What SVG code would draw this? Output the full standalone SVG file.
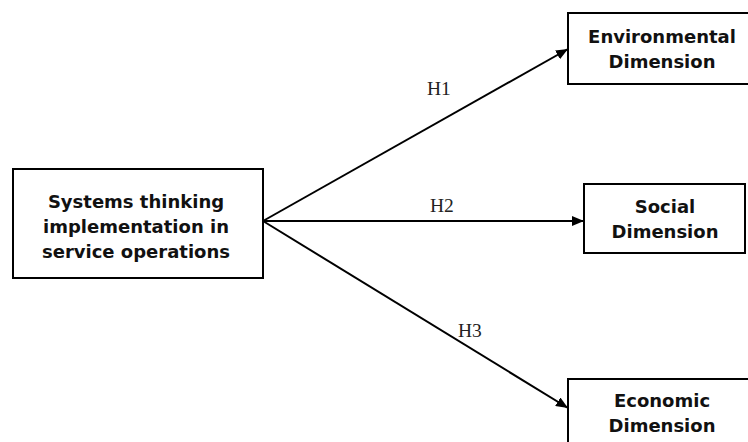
<svg xmlns="http://www.w3.org/2000/svg" width="748" height="442" viewBox="0 0 748 442">
<defs>
<marker id="arr" markerWidth="12" markerHeight="10" refX="12" refY="5" orient="auto" markerUnits="userSpaceOnUse">
<path d="M0,0 L12,5 L0,10 Z" fill="#000"/>
</marker>
<style>
.box{fill:#fff;stroke:#000;stroke-width:2}
.t{font-family:"DejaVu Sans",sans-serif;font-weight:bold;font-size:18px;fill:#111;text-anchor:middle}
.lbl{font-family:"Liberation Serif",serif;font-size:19.5px;fill:#222}
.c{stroke:#000;stroke-width:2;fill:none;marker-end:url(#arr)}
</style>
</defs>
<rect width="748" height="442" fill="#fff"/>
<g id="connectors">
<line class="c" x1="263" y1="221" x2="568" y2="49"/>
<line class="c" x1="263" y1="221" x2="584" y2="221"/>
<line class="c" x1="263" y1="221" x2="568" y2="408"/>
<text class="lbl" x="427" y="95">H1</text>
<text class="lbl" x="430" y="212">H2</text>
<text class="lbl" x="458" y="337">H3</text>
</g>
<g id="source">
<rect class="box" x="13" y="169" width="250" height="109"/>
<text class="t" x="136" y="208">Systems thinking</text>
<text class="t" x="136" y="233">implementation in</text>
<text class="t" x="136" y="258">service operations</text>
</g>
<g id="environmental">
<rect class="box" x="568" y="13" width="190" height="71"/>
<text class="t" x="662" y="43">Environmental</text>
<text class="t" x="662" y="68">Dimension</text>
</g>
<g id="social">
<rect class="box" x="584" y="184" width="161" height="69"/>
<text class="t" x="665" y="213">Social</text>
<text class="t" x="665" y="238">Dimension</text>
</g>
<g id="economic">
<rect class="box" x="568" y="379" width="190" height="80"/>
<text class="t" x="662" y="407">Economic</text>
<text class="t" x="662" y="432">Dimension</text>
</g>
</svg>
